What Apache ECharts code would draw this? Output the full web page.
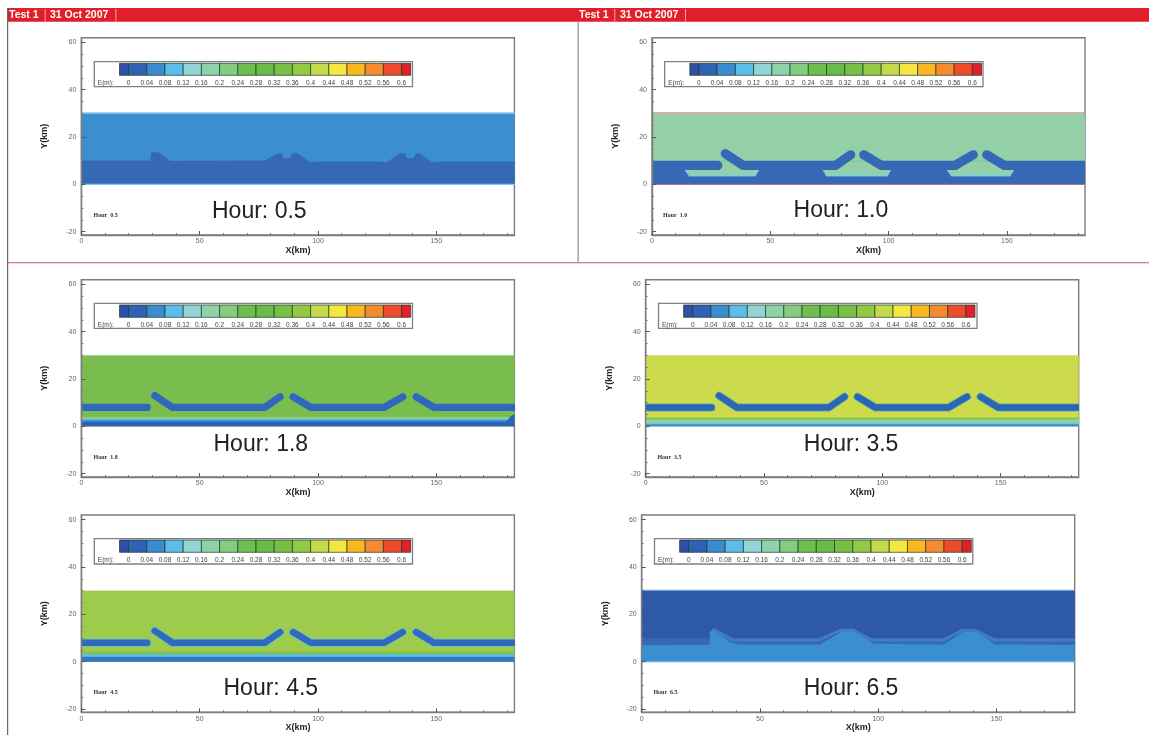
<!DOCTYPE html>
<html>
<head>
<meta charset="utf-8">
<style>html,body{margin:0;padding:0;background:#fff}#c{width:1149px;height:735px;filter:blur(0.45px)}</style>
<script src="https://cdn.jsdelivr.net/npm/echarts@6/dist/echarts.min.js"></script>
</head>
<body>
<div id="c"></div>
<script>
// ---- Data ----
const xMajorTicks = [0, 50, 100, 150];
const xMinorTicks = [10, 20, 30, 40, 60, 70, 80, 90, 110, 120, 130, 140, 160, 170, 180];
const yMajorTicks = [-20, 0, 20, 40, 60];
const yMinorTicks = [-15, -10, -5, 5, 10, 15, 25, 30, 35, 45, 50, 55];
const legendLevels = [0, 0.04, 0.08, 0.12, 0.16, 0.2, 0.24, 0.28, 0.32, 0.36, 0.4, 0.44, 0.48, 0.52, 0.56, 0.6];
const legendEdges = [-0.02, 0, 0.04, 0.08, 0.12, 0.16, 0.2, 0.24, 0.28, 0.32, 0.36, 0.4, 0.44, 0.48, 0.52, 0.56, 0.6, 0.62];
const legendColors = ['#2F4FA8', '#2F62B4', '#3A8BD0', '#5DBDEA', '#93D5D6', '#8FD2A9', '#86CC80', '#6FBE4E', '#6BBB48', '#78BF45', '#93C945', '#C5DA4A', '#F5E642', '#F9B820', '#F58A30', '#EE4A2C', '#E3202A'];
const hourLabels = ['0.5', '1.0', '1.8', '3.5', '4.5', '6.5'];

const domain = [[0, 0], [183, 0], [183, 30], [0, 30]];
const armA = [[0, 8], [27.8, 8]];
const armB = [[31, 13], [38.5, 8], [77.5, 8], [84, 12.5]];
const armC = [[89.5, 12.5], [97, 8], [128, 8], [135.8, 12.5]];
const armD = [[141.5, 12.5], [149, 8], [183, 8]];
const armLines = [armA, armB, armC, armD];

const hour05Lower = [[0, 0], [0, 10], [28, 10], [29, 9.5], [29.7, 13.7], [32.8, 13.4], [37.5, 9.9], [77.4, 10], [82.9, 13], [84.8, 13], [85.2, 10.9], [88.4, 10.9], [89, 13.1], [91.5, 13], [96.6, 9.2], [100, 9.6], [126, 9.6], [129, 9.2], [134.5, 13], [136.8, 13], [137.6, 10.9], [140.4, 10.9], [141.5, 13.1], [143, 13], [148.2, 9.2], [151.7, 9.6], [183, 9.6], [183, 0]];

const hour10Band = [[0, 0], [183, 0], [183, 9.7], [0, 9.7]];
const hour10TrapOuter = [
  [[13.8, 6.1], [45.2, 6.1], [43.7, 3.4], [15.7, 3.4]],
  [[72.2, 6.1], [101, 6.1], [99.5, 3.4], [73.7, 3.4]],
  [[124.6, 6.1], [153, 6.1], [151.4, 3.4], [126.5, 3.4]]
];
const hour10TrapInner = [
  [[14.8, 6.1], [44.2, 6.1], [43.2, 4.3], [16.2, 4.3]],
  [[73.2, 6.1], [100, 6.1], [99, 4.3], [74.2, 4.3]],
  [[125.6, 6.1], [152, 6.1], [150.9, 4.3], [127, 4.3]]
];
const hour10Gaps = [
  [[28.5, 5.9], [38.5, 5.9], [38.5, 9.8], [28.5, 9.8]],
  [[77.5, 5.9], [97.5, 5.9], [97.5, 9.8], [77.5, 9.8]],
  [[129, 5.9], [149.5, 5.9], [149.5, 9.8], [129, 9.8]]
];

const hour18Stripes = [
  [[0, 3.3], [183, 3.3], [183, 3.8], [0, 3.8]],
  [[0, 2.6], [183, 2.6], [183, 3.3], [0, 3.3]],
  [[0, 1.9], [183, 1.9], [183, 2.6], [0, 2.6]],
  [[0, 0], [183, 0], [183, 1.9], [0, 1.9]]
];
const hour18Corner = [[179.5, 1.9], [183, 1.9], [183, 5], [181.6, 4.4]];

const hour35Stripes = [
  [[0, 2.8], [183, 2.8], [183, 3.6], [0, 3.6]],
  [[0, 1.3], [183, 1.3], [183, 2.8], [0, 2.8]],
  [[0, 0.9], [183, 0.9], [183, 1.3], [0, 1.3]],
  [[0, 0], [183, 0], [183, 0.9], [0, 0.9]]
];
const hour45Stripes = [
  [[0, 3.1], [183, 3.1], [183, 4], [0, 4]],
  [[0, 2], [183, 2], [183, 3.1], [0, 3.1]],
  [[0, 0], [183, 0], [183, 2], [0, 2]]
];

const hour65Band = [[0, 0], [183, 0], [183, 9.9], [0, 9.9]];
const hour65Lower = [[0, 0], [0, 6.9], [28.8, 7.1], [28.8, 12.5], [30.8, 14], [37, 8.3], [40.8, 7.2], [75.4, 7.2], [85.4, 13.3], [89.2, 14], [97.7, 7.6], [127.7, 7.2], [136.2, 13], [140.8, 13.3], [149.2, 7.3], [183, 7], [183, 0]];
const hour65Rims = [
  [[30.5, 13.6], [38.5, 9.2], [75, 9.2], [84.2, 13.3], [89.5, 13.3], [97.2, 9.2], [127.5, 9.2], [135.5, 13.2], [141, 13.2], [149, 9.2], [183, 9.2]]
];

// One spec per panel (pixel layout + layered field shapes in km)
const poly = (points, fill) => ({ points, fill });
const line = (points, stroke, width) => ({ points, stroke, width });
const many = (list, fill) => list.map(p => poly(p, fill));
const strokes = (stroke, width) => armLines.map(p => line(p, stroke, width));
const edge = (y, width, color) => line([[0, y], [183, y]], color, width);

const panels = [
  { left: 81.4, top: 37.7, frameX: [94.3, 412.5], frameY: [61.7, 86.7], swX: [119.5, 410.7], swY: [63.3, 75.3], bigX: 212, bigY: 212, smallX: 93.6, smallY: 215.7,
    layers: [poly(domain, '#3B8FD0'), poly(hour05Lower, '#3569B5'), edge(30.2, 1.2, '#86C8EC'), edge(0, 1.2, '#86C8EC')] },
  { left: 652, top: 37.7, frameX: [664.7, 983], frameY: [61.7, 86.7], swX: [689.8, 981.5], swY: [63.3, 75.3], bigX: 793.6, bigY: 210.7, smallX: 663, smallY: 215.7,
    layers: [poly(domain, '#93D0A8'), poly(hour10Band, '#3569B5'), ...many(hour10TrapOuter, '#7FD0D8'), ...many(hour10TrapInner, '#93D0A8'), ...many(hour10Gaps, '#93D0A8'), ...strokes('#3569B5', 9.2), edge(30.2, 1, '#CC7A88'), edge(0, 1, '#A8708C')] },
  { left: 81.4, top: 279.7, frameX: [94.3, 412.5], frameY: [303.3, 328.3], swX: [119.5, 410.7], swY: [305, 317.3], bigX: 213.5, bigY: 445, smallX: 93.6, smallY: 457.7,
    layers: [poly(domain, '#79BD4E'), poly(hour18Stripes[0], '#A8D890'), poly(hour18Stripes[1], '#6CC5DC'), poly(hour18Stripes[2], '#3A8BD0'), poly(hour18Stripes[3], '#2F62B4'), poly(hour18Corner, '#2F62B4'), ...strokes('#2F68BC', 7.2)] },
  { left: 645.7, top: 279.7, frameX: [658.5, 977], frameY: [303.3, 328.3], swX: [683.6, 975], swY: [305, 317.3], bigX: 803.8, bigY: 445, smallX: 657.4, smallY: 457.7,
    layers: [poly(domain, '#CBDB4C'), poly(hour35Stripes[0], '#86C24F'), poly(hour35Stripes[1], '#8DD0A8'), poly(hour35Stripes[2], '#6CC5E8'), poly(hour35Stripes[3], '#3A8BD0'), ...strokes('#6FB09A', 8), ...strokes('#2A66B8', 6.5)] },
  { left: 81.4, top: 515, frameX: [94.3, 412.5], frameY: [538.7, 564], swX: [119.5, 410.7], swY: [540, 552.3], bigX: 223.5, bigY: 688.3, smallX: 93.6, smallY: 692.7,
    layers: [poly(domain, '#9ECB4B'), poly(hour45Stripes[0], '#7DBF4E'), poly(hour45Stripes[1], '#5FC0DE'), poly(hour45Stripes[2], '#2F78C4'), ...strokes('#5FC0DE', 8), ...strokes('#2F6ABC', 6.5)] },
  { left: 641.7, top: 515, frameX: [654.5, 972.8], frameY: [538.7, 564], swX: [679.6, 971.3], swY: [540, 552.3], bigX: 803.8, bigY: 688.3, smallX: 653.4, smallY: 692.7,
    layers: [poly(domain, '#2E58A8'), poly(hour65Band, '#3569B5'), poly(hour65Lower, '#3B8FD0'), line(hour65Rims[0], '#3F7CC6', 3), edge(30.2, 1, '#5B9AD8'), edge(0, 1, '#7CC3E8')] }
];

const plotW = 433, plotH = 197.3;
const grid = [], xAxis = [], yAxis = [], series = [], graphic = [];

const fieldRender = layers => (params, api) => {
  const l = layers[params.dataIndex];
  const pts = l.points.map(p => api.coord(p));
  if (l.fill) return { type: 'polygon', shape: { points: pts }, style: { fill: l.fill, stroke: l.fill, lineWidth: 0.3 } };
  return { type: 'polyline', shape: { points: pts }, style: { fill: null, stroke: l.stroke, lineWidth: l.width, lineCap: 'round', lineJoin: 'round' } };
};
const swatchRender = (params, api) => {
  const a = api.coord([api.value(0), 1]), b = api.coord([api.value(1), 0]);
  return { type: 'rect', shape: { x: a[0], y: a[1], width: b[0] - a[0], height: b[1] - a[1] },
    style: { fill: legendColors[params.dataIndex], stroke: '#1c3a2a', lineWidth: 0.7 } };
};
const swatchData = legendColors.map((c, i) => [legendEdges[i], legendEdges[i + 1]]);

panels.forEach((p, i) => {
  const base = { min: 0, max: 183 };
  const gMain = grid.length;
  grid.push({ left: p.left, top: p.top, width: plotW, height: plotH, show: true, backgroundColor: '#fff', borderColor: '#7d7d7d', borderWidth: 1.4 });
  const gLeg = grid.length;
  grid.push({ left: p.swX[0], top: p.swY[0], width: p.swX[1] - p.swX[0], height: p.swY[1] - p.swY[0], show: false });

  const xM = xAxis.length;
  xAxis.push({ type: 'value', gridIndex: gMain, position: 'bottom', ...base, z: 5, splitLine: { show: false },
    name: 'X(km)', nameLocation: 'middle', nameGap: 10, nameTextStyle: { fontFamily: 'Liberation Sans', fontWeight: 'bold', fontSize: 9, color: '#222' },
    axisLine: { onZero: false, lineStyle: { color: '#7d7d7d', width: 1.4 } },
    axisTick: { inside: true, length: 4, customValues: xMajorTicks, lineStyle: { color: '#555', width: 1 } },
    axisLabel: { customValues: xMajorTicks, margin: 3, fontFamily: 'Liberation Sans', fontSize: 7, color: '#666' } });
  xAxis.push({ type: 'value', gridIndex: gMain, position: 'bottom', ...base, z: 5, splitLine: { show: false },
    axisLine: { show: false, onZero: false }, axisLabel: { show: false },
    axisTick: { inside: true, length: 2, customValues: xMinorTicks, lineStyle: { color: '#777', width: 1 } } });
  const xL = xAxis.length;
  xAxis.push({ type: 'value', gridIndex: gLeg, position: 'bottom', min: legendEdges[0], max: legendEdges[legendEdges.length - 1], z: 4, splitLine: { show: false },
    axisLine: { show: false, onZero: false }, axisTick: { show: false },
    axisLabel: { customValues: legendLevels, hideOverlap: false, margin: 4, fontFamily: 'Liberation Sans', fontSize: 6.5, color: '#444', formatter: v => String(+(+v).toFixed(2)) } });

  const yM = yAxis.length;
  yAxis.push({ type: 'value', gridIndex: gMain, position: 'left', min: -21.4, max: 62, z: 5, splitLine: { show: false },
    name: 'Y(km)', nameLocation: 'middle', nameGap: 32, nameTextStyle: { fontFamily: 'Liberation Sans', fontWeight: 'bold', fontSize: 9, color: '#222' },
    axisLine: { onZero: false, lineStyle: { color: '#7d7d7d', width: 1.4 } },
    axisTick: { inside: true, length: 4, customValues: yMajorTicks, lineStyle: { color: '#555', width: 1 } },
    axisLabel: { customValues: yMajorTicks, margin: 5, fontFamily: 'Liberation Sans', fontSize: 7, color: '#666' } });
  yAxis.push({ type: 'value', gridIndex: gMain, position: 'left', min: -21.4, max: 62, z: 5, splitLine: { show: false },
    axisLine: { show: false, onZero: false }, axisLabel: { show: false },
    axisTick: { inside: true, length: 2, customValues: yMinorTicks, lineStyle: { color: '#777', width: 1 } } });
  const yL = yAxis.length;
  yAxis.push({ type: 'value', gridIndex: gLeg, min: 0, max: 1, show: false });

  series.push({ type: 'custom', xAxisIndex: xM, yAxisIndex: yM, clip: true, silent: true, animation: false, z: 2,
    data: p.layers.map((l, k) => k), renderItem: fieldRender(p.layers) });
  series.push({ type: 'custom', xAxisIndex: xL, yAxisIndex: yL, silent: true, animation: false, z: 3,
    encode: { x: [0, 1] }, data: swatchData, renderItem: swatchRender });

  graphic.push({ type: 'rect', z: 1, silent: true,
    shape: { x: p.frameX[0], y: p.frameY[0], width: p.frameX[1] - p.frameX[0], height: p.frameY[1] - p.frameY[0] },
    style: { fill: '#fff', stroke: '#808080', lineWidth: 1.3 } });
  graphic.push({ type: 'text', z: 3, silent: true, x: p.frameX[0] + 3.5, y: p.swY[1] + 8,
    style: { text: 'E(m):', fontFamily: 'Liberation Sans', fontSize: 6.5, fill: '#444', verticalAlign: 'middle' } });
  graphic.push({ type: 'text', z: 6, silent: true, x: p.bigX, y: p.bigY,
    style: { text: 'Hour: ' + hourLabels[i], fontFamily: 'Liberation Sans', fontSize: 23, fill: '#222', verticalAlign: 'middle' } });
  graphic.push({ type: 'text', z: 6, silent: true, x: p.smallX, y: p.smallY,
    style: { text: 'Hour  ' + hourLabels[i], fontFamily: 'Liberation Serif', fontWeight: 'bold', fontSize: 6, fill: '#333', verticalAlign: 'middle' } });
});

// page furniture: red header band and divider lines
graphic.push({ type: 'rect', z: 7, silent: true, shape: { x: 7, y: 8, width: 1142, height: 13.7 }, style: { fill: '#E01F2A' } });
graphic.push({ type: 'rect', z: 7, silent: true, shape: { x: 7, y: 8, width: 1.2, height: 727 }, style: { fill: '#666' } });
graphic.push({ type: 'rect', z: 7, silent: true, shape: { x: 577.6, y: 21.7, width: 1, height: 240 }, style: { fill: '#777' } });
graphic.push({ type: 'rect', z: 7, silent: true, shape: { x: 7, y: 262.2, width: 1142, height: 1 }, style: { fill: '#C65A68' } });
[[9, 44.7, 50, 115.5], [579, 614.4, 620, 685]].forEach(h => {
  graphic.push({ type: 'text', z: 8, silent: true, x: h[0], y: 15, style: { text: 'Test 1', fontFamily: 'Liberation Sans', fontWeight: 'bold', fontSize: 10.5, fill: '#fff', verticalAlign: 'middle' } });
  graphic.push({ type: 'text', z: 8, silent: true, x: h[2], y: 15, style: { text: '31 Oct 2007', fontFamily: 'Liberation Sans', fontWeight: 'bold', fontSize: 10.5, fill: '#fff', verticalAlign: 'middle' } });
  graphic.push({ type: 'rect', z: 8, silent: true, shape: { x: h[1], y: 9, width: 0.8, height: 12 }, style: { fill: '#f6c8c8' } });
  graphic.push({ type: 'rect', z: 8, silent: true, shape: { x: h[3], y: 9, width: 0.8, height: 12 }, style: { fill: '#f6c8c8' } });
});

const chart = echarts.init(document.getElementById('c'), null, { renderer: 'canvas' });
chart.setOption({ animation: false, backgroundColor: '#fff', grid, xAxis, yAxis, series, graphic: { elements: graphic } });
</script>
</body>
</html>
